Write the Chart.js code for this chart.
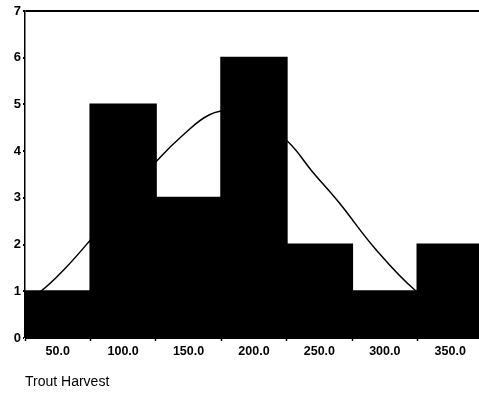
<!DOCTYPE html>
<html>
<head>
<meta charset="utf-8">
<script src="https://cdn.jsdelivr.net/npm/chart.js@4/dist/chart.umd.min.js"></script>
<style>
  html, body { margin: 0; padding: 0; background: #fff; }
  #wrap { width: 479px; height: 396px; position: relative; }
</style>
</head>
<body>
<div id="wrap"><canvas id="c" width="479" height="396"></canvas></div>
<script>
// Histogram bins (centres) and counts
const binCenters = [50, 100, 150, 200, 250, 300, 350];
const counts = [1, 5, 3, 6, 2, 1, 2];
// Fitted normal curve (x value, frequency)
const curveX = [26, 37, 56, 75, 100, 126, 146, 166, 185, 200, 226, 245, 265, 293, 324, 345, 372];
const curveY = [0.85, 1.0, 1.5, 2.1, 2.95, 3.8, 4.35, 4.78, 4.88, 4.75, 4.2, 3.55, 2.9, 1.9, 1.0, 0.65, 0.4];
// Axis ticks
const xTicks = [50, 100, 150, 200, 250, 300, 350];
const xTickLabels = ['50.0', '100.0', '150.0', '200.0', '250.0', '300.0', '350.0'];
const yTicks = [0, 1, 2, 3, 4, 5, 6, 7];
const xTitle = 'Trout Harvest';

const FONT = '"Liberation Sans", Arial, Helvetica, sans-serif';

new Chart(document.getElementById('c'), {
  type: 'bar',
  data: {
    datasets: [
      {
        type: 'bar',
        data: binCenters.map((x, i) => ({ x: x, y: counts[i] })),
        backgroundColor: '#000',
        borderWidth: 0,
        inflateAmount: 1,
        barPercentage: 1.0,
        categoryPercentage: 1.0,
        order: 1
      },
      {
        type: 'line',
        data: curveX.map((x, i) => ({ x: x, y: curveY[i] })),
        borderColor: '#000',
        borderWidth: 1.5,
        pointRadius: 0,
        fill: false,
        tension: 0.4,
        order: 2
      }
    ]
  },
  options: {
    responsive: false,
    animation: false,
    devicePixelRatio: 1,
    layout: { padding: { top: 11, right: 0, left: 0, bottom: 0 } },
    plugins: { legend: { display: false }, tooltip: { enabled: false } },
    scales: {
      x: {
        type: 'linear',
        min: 25,
        max: 372,
        offset: false,
        afterBuildTicks: s => { s.ticks = xTicks.map(v => ({ value: v })); },
        afterFit: s => { s.height = 58; },
        ticks: {
          autoSkip: false,
          maxRotation: 0,
          padding: 3,
          color: '#000',
          font: { family: FONT, size: 12.5, weight: 'bold' },
          callback: (v) => { const i = xTicks.indexOf(v); return i >= 0 ? xTickLabels[i] : ''; }
        },
        grid: { drawOnChartArea: false, drawTicks: true, tickLength: 3, tickColor: '#000', tickWidth: 1.5 },
        border: { display: true, color: '#000', width: 1 },
        title: {
          display: true,
          text: xTitle,
          align: 'start',
          color: '#000',
          font: { family: FONT, size: 14 },
          padding: { top: 0, bottom: 5 }
        }
      },
      y: {
        min: 0,
        max: 7,
        afterBuildTicks: s => { s.ticks = yTicks.map(v => ({ value: v })); },
        afterFit: s => { s.width = 25; },
        ticks: {
          padding: 2,
          color: '#000',
          font: { family: FONT, size: 13, weight: 'bold' },
          callback: v => String(v)
        },
        grid: {
          drawTicks: true,
          tickLength: 2,
          tickColor: '#000',
          tickWidth: 2,
          color: c => (c.tick && c.tick.value === 7) ? '#000' : 'rgba(0,0,0,0)',
          lineWidth: c => (c.tick && c.tick.value === 7) ? 2 : 0
        },
        border: { display: true, color: '#000', width: 1.5 }
      }
    }
  }
});
</script>
</body>
</html>
